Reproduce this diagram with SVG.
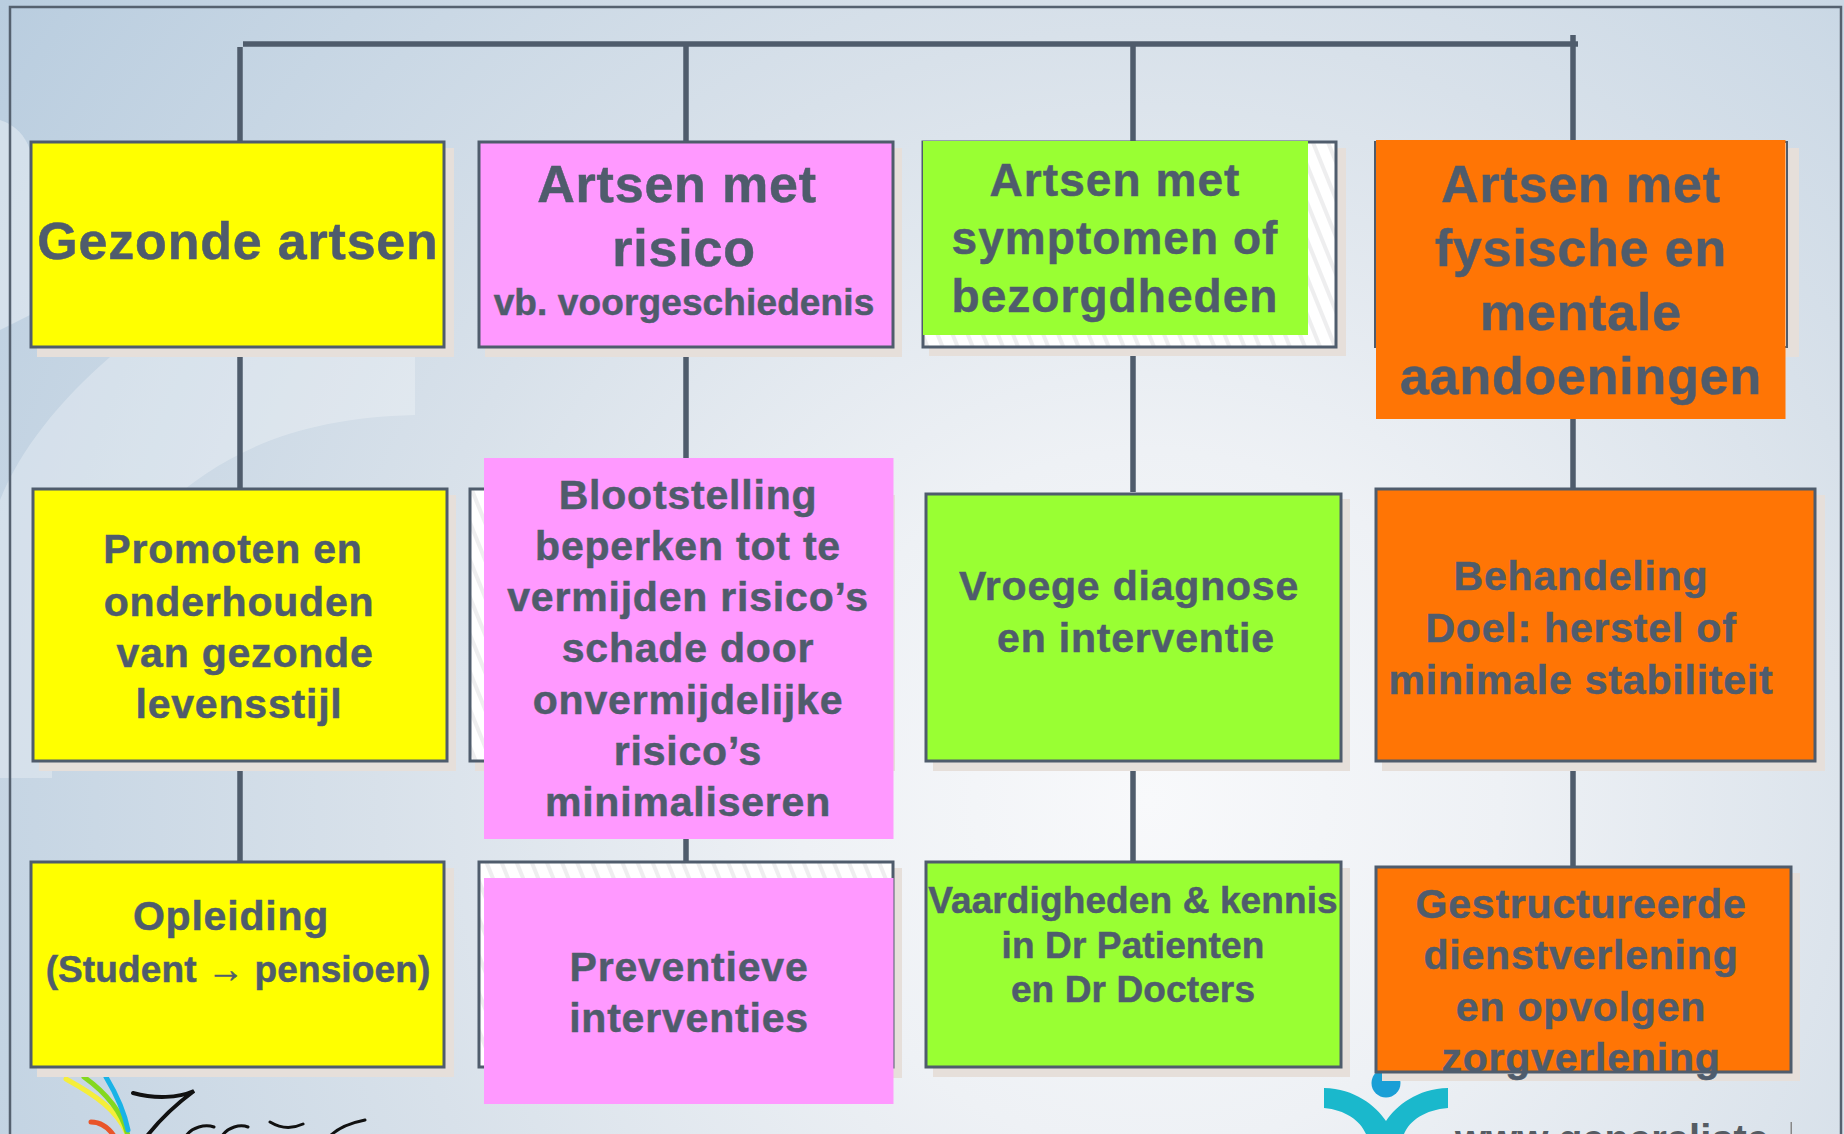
<svg xmlns="http://www.w3.org/2000/svg" width="1844" height="1134" viewBox="0 0 1844 1134">
<style>
.s{fill:#e6dfda}
.b{stroke:#4f5c6c;stroke-width:3}
.y{fill:#ffff00}.p{fill:#ff99ff}.g{fill:#99ff33}.o{fill:#ff7505}
.w{fill:url(#hatch)}
.c{fill:none;stroke:#4f5c6c;stroke-width:5.5}
text{font-family:"Liberation Sans",Arial,sans-serif;font-weight:700;fill:#4f5c6c;stroke:#4f5c6c;stroke-width:.5;text-anchor:middle}
.f52{font-size:52px;letter-spacing:.8px}.f46{font-size:46px;letter-spacing:1.05px}.f41{font-size:41px;letter-spacing:.8px}.f37{font-size:37px;letter-spacing:.12px}
</style>
<defs>
<radialGradient id="bg" gradientUnits="userSpaceOnUse" cx="1150" cy="800" r="1400">
<stop offset="0" stop-color="#f8f9fb"/><stop offset=".25" stop-color="#eef1f5"/><stop offset=".55" stop-color="#d8e1ea"/><stop offset="1" stop-color="#b9cddf"/>
</radialGradient>
<pattern id="hatch" width="14" height="14" patternUnits="userSpaceOnUse" patternTransform="rotate(-22)">
<rect width="14" height="14" fill="#fff"/><rect width="4" height="14" fill="#eeeeef"/>
</pattern>
</defs>
<g id="background">
<rect width="1844" height="1134" fill="url(#bg)"/>
<path d="M110,357 L415,357 L415,415 C300,418 220,450 150,520 C100,570 60,640 52,700 L52,778 L0,778 L0,500 C20,450 60,400 110,357Z" fill="#fff" opacity=".28"/>
<path d="M0,120 C15,125 25,135 30,150 L30,315 L0,330Z" fill="#fff" opacity=".35"/>
<rect x="10" y="7" width="1831" height="1140" fill="none" stroke="#55616f" stroke-width="2.5"/>
</g>
<g id="logo-left" fill="none" stroke-linecap="round">
<path d="M66,1079 C95,1095 118,1110 128,1136" stroke="#f5ee3a" stroke-width="5"/>
<path d="M84,1077 C105,1092 122,1110 128,1136" stroke="#84d81f" stroke-width="5"/>
<path d="M106,1077 C115,1092 124,1110 128,1130" stroke="#19b3e6" stroke-width="5"/>
<path d="M91,1122 C100,1122 108,1127 114,1136" stroke="#e9552a" stroke-width="5"/>
<path d="M133,1093 C155,1099 178,1098 194,1091 C175,1105 158,1122 147,1136" stroke="#111" stroke-width="4"/>
<path d="M186,1136 C192,1127 205,1124 214,1127 M222,1136 C228,1127 240,1124 248,1127 M270,1122 C280,1128 290,1130 303,1124 M330,1136 C340,1126 355,1122 365,1120" stroke="#111" stroke-width="3"/>
</g>
<g id="logo-right">
<circle cx="1386" cy="1083" r="14.5" fill="#1a9fd6"/>
<path d="M1324,1088 C1355,1089 1375,1105 1386,1121 C1397,1105 1417,1089 1448,1088 L1448,1108 C1425,1110 1410,1120 1404,1134 L1366,1134 C1360,1120 1345,1110 1324,1108Z" fill="#1ab8cc"/>
<text x="1612" y="1153" style="font-size:40px;fill:#555c63;stroke:none;letter-spacing:0">www.generaliste</text>
<rect x="1790.5" y="1122" width="1.5" height="12" fill="#888"/>
</g>
<g id="shadows">
<rect class="s" x="37" y="148" width="417" height="209"/>
<rect class="s" x="485" y="148" width="417" height="209"/>
<rect class="s" x="929" y="148" width="417" height="208"/>
<rect class="s" x="1380" y="148" width="419" height="209"/>
<rect class="s" x="39" y="495" width="417" height="276"/>
<rect class="s" x="475" y="495" width="420" height="276"/>
<rect class="s" x="933" y="499" width="417" height="272"/>
<rect class="s" x="1382" y="495" width="443" height="276"/>
<rect class="s" x="37" y="868" width="417" height="209"/>
<rect class="s" x="485" y="868" width="417" height="210"/>
<rect class="s" x="933" y="868" width="417" height="209"/>
<rect class="s" x="1382" y="873" width="418" height="208"/>
</g>
<g id="connectors">
<path class="c" d="M243,44 H1578"/>
<path class="c" d="M240,47 V141 M240,357 V488 M240,771 V862"/>
<path class="c" d="M686,44 V141 M686,357 V458 M686,838 V862"/>
<path class="c" d="M1133,44 V141 M1133,356 V492 M1133,771 V862"/>
<path class="c" d="M1573,35 V141 M1573,419 V488 M1573,771 V866"/>
</g>
<g id="n-gezonde">
<rect class="y b" x="31" y="142" width="413" height="205"/>
<text class="f52" x="238" y="259">Gezonde artsen</text>
</g>
<g id="n-risico">
<rect class="p b" x="479" y="142" width="414" height="205"/>
<text class="f52" x="677" y="202">Artsen met</text>
<text class="f52" x="684" y="266">risico</text>
<text class="f37" x="684" y="315">vb. voorgeschiedenis</text>
</g>
<g id="n-symptomen">
<rect class="w b" x="923" y="142" width="413" height="205"/>
<rect class="g" x="923" y="141" width="385" height="194"/>
<text class="f46" x="1115" y="196">Artsen met</text>
<text class="f46" x="1115" y="254">symptomen of</text>
<text class="f46" x="1115" y="312">bezorgdheden</text>
</g>
<g id="n-aandoeningen">
<rect x="1375" y="142" width="412" height="205" fill="#fff" stroke="#4f5c6c" stroke-width="2"/>
<rect class="o" x="1376" y="140" width="409.5" height="279"/>
<text class="f52" x="1581" y="202">Artsen met</text>
<text class="f52" x="1581" y="266">fysische en</text>
<text class="f52" x="1581" y="330">mentale</text>
<text class="f52" x="1581" y="394">aandoeningen</text>
</g>
<g id="n-promoten">
<rect class="y b" x="33" y="489" width="414" height="272"/>
<text class="f41" x="233" y="563">Promoten en</text>
<text class="f41" x="239" y="616">onderhouden</text>
<text class="f41" x="245" y="667">van gezonde</text>
<text class="f41" x="239" y="718">levensstijl</text>
</g>
<g id="n-blootstelling">
<rect class="w b" x="470" y="489" width="420" height="272"/>
<rect class="p" x="484" y="458" width="409.5" height="381"/>
<text class="f41" x="688" y="509">Blootstelling</text>
<text class="f41" x="688" y="560">beperken tot te</text>
<text class="f41" x="688" y="611">vermijden risico’s</text>
<text class="f41" x="688" y="662">schade door</text>
<text class="f41" x="688" y="714">onvermijdelijke</text>
<text class="f41" x="688" y="765">risico’s</text>
<text class="f41" x="688" y="816">minimaliseren</text>
</g>
<g id="n-vroege">
<rect class="g b" x="926" y="494" width="415" height="267"/>
<text class="f41" x="1129" y="600">Vroege diagnose</text>
<text class="f41" x="1136" y="652">en interventie</text>
</g>
<g id="n-behandeling">
<rect class="o b" x="1376" y="489" width="439" height="272"/>
<text class="f41" x="1581" y="590">Behandeling</text>
<text class="f41" x="1581" y="642">Doel: herstel of</text>
<text class="f41" x="1581" y="694">minimale stabiliteit</text>
</g>
<g id="n-opleiding">
<rect class="y b" x="31" y="862" width="413" height="205"/>
<text class="f41" x="231" y="930">Opleiding</text>
<text class="f37" x="238" y="982">(Student → pensioen)</text>
</g>
<g id="n-preventieve">
<rect class="w b" x="479" y="862" width="414" height="205"/>
<rect class="p" x="484" y="878" width="409.5" height="226"/>
<text class="f41" x="689" y="981">Preventieve</text>
<text class="f41" x="689" y="1032">interventies</text>
</g>
<g id="n-vaardigheden">
<rect class="g b" x="926" y="862" width="415" height="205"/>
<text class="f37" x="1133" y="913">Vaardigheden &amp; kennis</text>
<text class="f37" x="1133" y="958">in Dr Patienten</text>
<text class="f37" x="1133" y="1002">en Dr Docters</text>
</g>
<g id="n-gestructureerde">
<rect class="o b" x="1376" y="867" width="415" height="205"/>
<text class="f41" x="1581" y="918">Gestructureerde</text>
<text class="f41" x="1581" y="969">dienstverlening</text>
<text class="f41" x="1581" y="1021">en opvolgen</text>
<text class="f41" x="1581" y="1072">zorgverlening</text>
</g>
</svg>
